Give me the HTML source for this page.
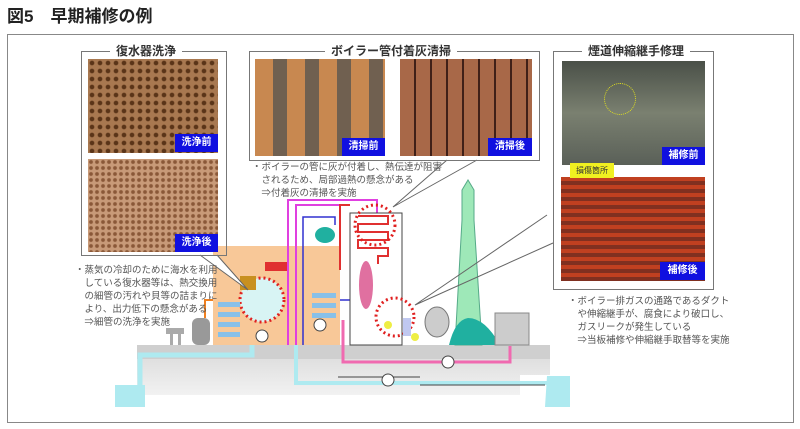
<!DOCTYPE html>
<html><head><meta charset="utf-8"><style>
body{margin:0;width:800px;height:429px;background:#fff;position:relative;overflow:hidden;font-family:"Liberation Sans","Noto Sans CJK JP",sans-serif}
.a{position:absolute}
.tag{position:absolute;background:#1010e0;color:#fff;font-size:10px;font-weight:bold;text-align:center;line-height:18px}
.box{position:absolute;border:1.5px solid #777;}
.ttl{position:absolute;background:#fff;font-size:12px;font-weight:bold;color:#333;padding:0 6px;top:-9px;line-height:16px}
.txt{position:absolute;font-size:9.5px;color:#555;line-height:13px;white-space:nowrap}
</style></head><body>
<div class="a" style="left:7px;top:2px;font-size:17px;font-weight:bold;color:#222">図5　早期補修の例</div>
<div class="box" style="left:7px;top:34px;width:785px;height:387px;border-color:#888"></div>

<svg class="a" style="left:0;top:0" width="800" height="429">
<defs><linearGradient id="g" x1="0" y1="0" x2="0" y2="1"><stop offset="0" stop-color="#d8d8d8"/><stop offset="1" stop-color="#f8f8f8"/></linearGradient></defs>
<!-- ground -->
<path d="M137 345 H550 V375 H520 V395 H145 V407 H137 Z" fill="url(#g)"/>
<rect x="137" y="345" width="413" height="14" fill="#cfcfcf"/>
<path d="M115 385 H145 V407 H115 Z" fill="#aeeaf0"/>
<path d="M140 390 V355 H252 V345" stroke="#aeeaf0" stroke-width="5" fill="none"/>
<path d="M296 345 V383 H548" stroke="#aeeaf0" stroke-width="4" fill="none"/>
<path d="M547 376 H570 V407 H545 Z" fill="#aeeaf0"/>
<path d="M343 320 V362 H510 V346" stroke="#f06ab0" stroke-width="3" fill="none"/>
<line x1="338" y1="377" x2="420" y2="377" stroke="#444"/>
<line x1="420" y1="385" x2="545" y2="385" stroke="#444"/>
<circle cx="448" cy="362" r="6" fill="#fff" stroke="#444"/>
<circle cx="388" cy="380" r="6" fill="#fff" stroke="#444"/>
<!-- orange building -->
<rect x="213" y="246" width="127" height="99" fill="#f8c898"/>
<circle cx="262" cy="300" r="22" fill="#d8f4f4" stroke="#e02020" stroke-width="3" stroke-dasharray="2 3"/>
<rect x="218" y="312" width="22" height="5" fill="#88c0e8"/><rect x="218" y="322" width="22" height="5" fill="#88c0e8"/><rect x="218" y="332" width="22" height="5" fill="#88c0e8"/><rect x="218" y="302" width="22" height="5" fill="#88c0e8"/>
<rect x="312" y="293" width="24" height="5" fill="#88c0e8"/><rect x="312" y="303" width="24" height="5" fill="#88c0e8"/><rect x="312" y="313" width="24" height="5" fill="#88c0e8"/>
<rect x="240" y="276" width="16" height="14" fill="#c89020"/>
<rect x="265" y="262" width="22" height="9" fill="#e03030"/>
<circle cx="262" cy="336" r="6" fill="#fff" stroke="#444"/>
<circle cx="320" cy="325" r="6" fill="#fff" stroke="#444"/>
<rect x="192" y="318" width="18" height="27" rx="6" fill="#999"/>
<rect x="166" y="328" width="18" height="6" fill="#aaa"/><rect x="170" y="334" width="3" height="11" fill="#aaa"/><rect x="178" y="334" width="3" height="11" fill="#aaa"/>
<path d="M205 318 V300 H213" stroke="#f08020" stroke-width="2" fill="none"/>
<!-- pipes -->
<path d="M288 345 V200 H377 V215 M296 345 V205 H340" stroke="#e040e0" stroke-width="2" fill="none"/>
<path d="M303 345 V217 H335 V225" stroke="#3030d0" stroke-width="1.5" fill="none"/>
<path d="M340 300 H350" stroke="#3030d0" stroke-width="1.5"/>
<path d="M340 270 V205 H350" stroke="#e03030" stroke-width="2" fill="none"/>
<ellipse cx="325" cy="235" rx="10" ry="8" fill="#20b0a0"/>
<!-- boiler -->
<rect x="350" y="213" width="52" height="132" fill="#fff" stroke="#444"/>
<path d="M358 216 h30 v8 h-30 v8 h30 v8 h-30 v8 h30 v8 h-10 v8" stroke="#e03030" stroke-width="2" fill="none"/>
<ellipse cx="366" cy="285" rx="7" ry="24" fill="#e070a0"/>
<circle cx="375" cy="225" r="20" fill="none" stroke="#e02020" stroke-width="3" stroke-dasharray="2 3"/>
<circle cx="395" cy="317" r="19" fill="none" stroke="#e02020" stroke-width="3" stroke-dasharray="2 3"/>
<circle cx="388" cy="325" r="4" fill="#ee4"/><circle cx="415" cy="337" r="4" fill="#ee4"/>
<rect x="403" y="318" width="8" height="18" fill="#c0c8f0"/>
<ellipse cx="437" cy="322" rx="12" ry="15" fill="#ccc" stroke="#777"/>
<!-- stack -->
<path d="M455 345 L462 220 L462 190 L468 180 L474 190 L474 220 L482 345 Z" fill="#9ee8b8" stroke="#5a8"/>
<path d="M449 345 Q455 320 468 318 Q485 318 500 345 Z" fill="#20b0a0"/>
<rect x="495" y="313" width="34" height="32" fill="#ccc" stroke="#888"/>
<!-- callout lines -->
<path d="M200 255 L248 290 L217 255" stroke="#666" fill="#fff"/>
<path d="M447 160 L393 207 L477 160" stroke="#666" fill="none"/>
<path d="M547 215 L415 305 L553 243" stroke="#666" fill="none"/>
</svg>

<div class="box" style="left:81px;top:51px;width:144px;height:203px">
<div class="ttl" style="left:28px">復水器洗浄</div></div>
<div class="a" style="left:88px;top:59px;width:130px;height:94px;background:radial-gradient(circle,#5a3418 1.8px,transparent 2.8px) 0 0/8px 8px,#a87850"></div>
<div class="tag" style="left:175px;top:134px;width:43px">洗浄前</div>
<div class="a" style="left:88px;top:159px;width:130px;height:93px;background:radial-gradient(circle,#8a5838 1.4px,transparent 2.4px) 0 0/6px 6px,#c89a78"></div>
<div class="tag" style="left:175px;top:234px;width:43px">洗浄後</div>
<div class="txt" style="left:75px;top:264px">・蒸気の冷却のために海水を利用<br>　している復水器等は、熱交換用<br>　の細管の汚れや貝等の詰まりに<br>　より、出力低下の懸念がある<br>　⇒細管の洗浄を実施</div>

<div class="box" style="left:249px;top:51px;width:289px;height:108px">
<div class="ttl" style="left:75px">ボイラー管付着灰清掃</div></div>
<div class="a" style="left:255px;top:59px;width:130px;height:97px;background:repeating-linear-gradient(90deg,#c88850 0 18px,#706050 18px 32px)"></div>
<div class="tag" style="left:342px;top:138px;width:43px">清掃前</div>
<div class="a" style="left:400px;top:59px;width:132px;height:97px;background:repeating-linear-gradient(90deg,#a86848 0 14px,#402018 14px 16px)"></div>
<div class="tag" style="left:488px;top:138px;width:44px">清掃後</div>
<div class="txt" style="left:252px;top:161px">・ボイラーの管に灰が付着し、熱伝達が阻害<br>　されるため、局部過熱の懸念がある<br>　⇒付着灰の清掃を実施</div>

<div class="box" style="left:553px;top:51px;width:159px;height:237px">
<div class="ttl" style="left:28px">煙道伸縮継手修理</div></div>
<div class="a" style="left:562px;top:61px;width:143px;height:104px;background:linear-gradient(#4a5048,#7a8070,#5a6058)"></div>
<div class="a" style="left:604px;top:83px;width:30px;height:30px;border:1.5px dotted #e0e020;border-radius:50%"></div>
<div class="tag" style="left:662px;top:147px;width:43px">補修前</div>
<div class="a" style="left:561px;top:177px;width:144px;height:104px;background:repeating-linear-gradient(#c04020 0 4px,#803020 4px 8px)"></div>
<div class="a" style="left:570px;top:163px;width:44px;height:15px;background:#f0f020;font-size:8px;text-align:center;line-height:15px;color:#333">損傷箇所</div>
<div class="tag" style="left:660px;top:262px;width:45px">補修後</div>
<div class="txt" style="left:568px;top:295px">・ボイラー排ガスの通路であるダクト<br>　や伸縮継手が、腐食により破口し、<br>　ガスリークが発生している<br>　⇒当板補修や伸縮継手取替等を実施</div>
</body></html>
